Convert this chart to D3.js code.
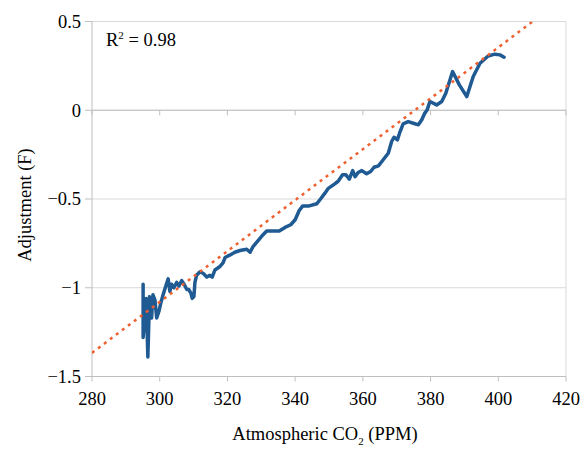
<!DOCTYPE html>
<html>
<head>
<meta charset="utf-8">
<script src="https://cdn.jsdelivr.net/npm/d3@7"></script>
<style>
  body { margin: 0; background: #fff; }
  text { font-family: "Liberation Serif", "Times New Roman", serif; fill: #000; }
</style>
</head>
<body>
<script>
// CO2 (ppm) vs temperature adjustment (F)
const co2 = [295.1, 295.1, 296.0, 296.5, 297.0, 297.6, 298.0, 298.6, 299.1, 299.8,
  300.4, 301.0, 301.8, 302.5, 303.0, 303.5, 304.2, 305.0, 305.7, 306.5,
  307.2, 308.0, 308.6, 309.2, 309.6, 310.1, 310.4, 310.9, 311.9, 312.9,
  313.9, 314.8, 315.5, 316.3, 317.8, 318.7, 319.3, 320.8, 322.2, 323.7,
  325.7, 326.7, 327.5, 328.8, 330.1, 331.6, 333.1, 335.3, 337.0, 338.7,
  340.0, 341.2, 342.2, 343.9, 346.4, 347.5, 348.8, 349.8, 351.7, 352.7,
  354.0, 355.0, 356.0, 357.0, 357.7, 358.6, 359.7, 361.1, 362.3, 363.3,
  364.6, 366.0, 367.5, 368.5, 369.2, 370.2, 371.0, 371.9, 373.4, 374.9,
  376.4, 377.4, 378.3, 379.0, 379.8, 381.8, 383.3, 384.5, 386.5, 388.5,
  390.7, 392.6, 394.6, 397.0, 399.0, 400.5, 401.7];
const adjustment = [-0.98, -1.28, -1.06, -1.39, -1.05, -1.17, -1.04, -1.07, -1.17, -1.13,
  -1.08, -1.04, -0.99, -0.95, -1.02, -0.98, -1.00, -0.97, -0.99, -0.96,
  -0.98, -1.01, -1.01, -1.03, -1.06, -1.05, -0.97, -0.93, -0.91, -0.92,
  -0.94, -0.93, -0.94, -0.90, -0.88, -0.86, -0.83, -0.815, -0.80, -0.79,
  -0.783, -0.80, -0.77, -0.74, -0.71, -0.68, -0.68, -0.68, -0.66, -0.645,
  -0.617, -0.565, -0.54, -0.54, -0.527, -0.50, -0.467, -0.44, -0.415, -0.40,
  -0.364, -0.364, -0.388, -0.34, -0.374, -0.351, -0.34, -0.358, -0.345, -0.321,
  -0.313, -0.279, -0.242, -0.176, -0.152, -0.167, -0.12, -0.077, -0.064, -0.073,
  -0.082, -0.054, -0.016, 0.002, 0.049, 0.03, 0.049, 0.096, 0.218, 0.143,
  0.077, 0.19, 0.265, 0.306, 0.316, 0.312, 0.299];

// linear trend line endpoints
const trendX = [280, 420];
const trendY = [-1.367, 0.641];

const xTicks = [280, 300, 320, 340, 360, 380, 400, 420];
const yTicks = [-1.5, -1, -0.5, 0, 0.5];
const yTickLabels = ["\u22121.5", "\u22121", "\u22120.5", "0", "0.5"];

const width = 586, height = 449;
const margin = { top: 21.5, right: 20, bottom: 72.5, left: 92 };
const chartWidth = width - margin.left - margin.right;
const chartHeight = height - margin.top - margin.bottom;

const svg = d3.select("body").append("svg")
    .attr("width", width)
    .attr("height", height);

const g = svg.append("g")
    .attr("transform", `translate(${margin.left},${margin.top})`);

const x = d3.scaleLinear().domain([280, 420]).range([0, chartWidth]);
const y = d3.scaleLinear().domain([-1.5, 0.5]).range([chartHeight, 0]);

// horizontal gridlines
g.selectAll(".grid")
    .data(yTicks)
    .join("line")
    .attr("x1", 0).attr("x2", chartWidth)
    .attr("y1", d => y(d)).attr("y2", d => y(d))
    .attr("stroke", "#d9d9d9")
    .attr("stroke-width", 1);

// plot frame (left/right borders)
g.append("line")
    .attr("x1", chartWidth).attr("x2", chartWidth)
    .attr("y1", 0).attr("y2", chartHeight)
    .attr("stroke", "#d9d9d9");
g.append("line")
    .attr("x1", 0).attr("x2", 0)
    .attr("y1", 0).attr("y2", chartHeight)
    .attr("stroke", "#bfbfbf");

// y axis ticks + labels
g.selectAll(".ytick")
    .data(yTicks)
    .join("line")
    .attr("x1", -7).attr("x2", 0)
    .attr("y1", d => y(d)).attr("y2", d => y(d))
    .attr("stroke", "#bfbfbf");
g.selectAll(".ylab")
    .data(yTicks)
    .join("text")
    .attr("x", -11)
    .attr("y", d => y(d))
    .attr("dy", "0.35em")
    .attr("text-anchor", "end")
    .style("font-size", "18.5px")
    .text((d, i) => yTickLabels[i]);

// x ticks on the zero line and the bottom edge
[0, -1.5].forEach(level => {
    g.selectAll(null)
        .data(xTicks)
        .join("line")
        .attr("x1", d => x(d)).attr("x2", d => x(d))
        .attr("y1", y(level)).attr("y2", y(level) + 5)
        .attr("stroke", "#bfbfbf");
});
g.append("line")
    .attr("x1", 0).attr("x2", chartWidth)
    .attr("y1", y(0)).attr("y2", y(0))
    .attr("stroke", "#bfbfbf");
g.append("line")
    .attr("x1", 0).attr("x2", chartWidth)
    .attr("y1", chartHeight).attr("y2", chartHeight)
    .attr("stroke", "#bfbfbf");

g.selectAll(".xlab")
    .data(xTicks)
    .join("text")
    .attr("x", d => x(d))
    .attr("y", chartHeight + 28)
    .attr("text-anchor", "middle")
    .style("font-size", "18.5px")
    .text(d => d);

// clip for the trend line
svg.append("clipPath").attr("id", "plotClip")
    .append("rect")
    .attr("width", chartWidth).attr("height", chartHeight);

const pts = co2.map((c, i) => [c, adjustment[i]]);
const line = d3.line().x(d => x(d[0])).y(d => y(d[1]));

g.append("path")
    .datum(pts)
    .attr("fill", "none")
    .attr("stroke", "#1f5a93")
    .attr("stroke-width", 3.5)
    .attr("stroke-linejoin", "round")
    .attr("stroke-linecap", "round")
    .attr("d", line);

g.append("path")
    .datum(trendX.map((c, i) => [c, trendY[i]]))
    .attr("clip-path", "url(#plotClip)")
    .attr("fill", "none")
    .attr("stroke", "#ee6030")
    .attr("stroke-width", 2.5)
    .attr("stroke-dasharray", "3,4.5")
    .attr("d", line);

// R squared label
const r2 = g.append("text")
    .attr("x", 14)
    .attr("y", 24.5)
    .style("font-size", "18.5px");
r2.append("tspan").text("R");
r2.append("tspan").attr("dy", -7).style("font-size", "11px").text("2");
r2.append("tspan").attr("dy", 7).text(" = 0.98");

// axis titles
const xt = svg.append("text")
    .attr("x", 325)
    .attr("y", 440)
    .attr("text-anchor", "middle")
    .style("font-size", "18.5px");
xt.append("tspan").text("Atmospheric CO");
xt.append("tspan").attr("dy", 5).style("font-size", "11px").text("2");
xt.append("tspan").attr("dy", -5).text(" (PPM)");

svg.append("text")
    .attr("transform", "translate(31,205) rotate(-90)")
    .attr("text-anchor", "middle")
    .style("font-size", "18.5px")
    .text("Adjustment (F)");
</script>
</body>
</html>
